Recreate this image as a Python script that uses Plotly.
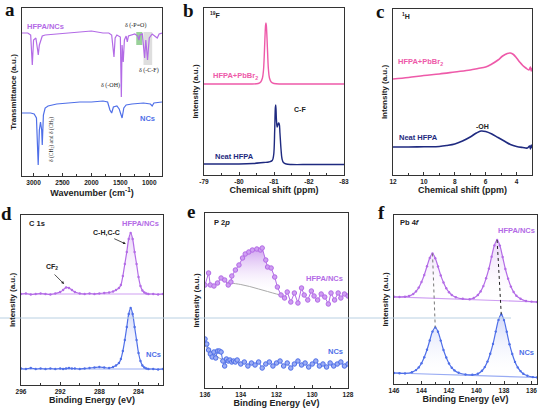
import numpy as np
import plotly.graph_objects as go

W, H = 554, 416

PURPLE = "#b36be6"
PURPLE_L = "#cf9ff2"
BLUE = "#4f6fe8"
BLUE_L = "#98abf3"
PINK = "#ee5aa9"
NAVY = "#1f2a80"

# ---- a: FTIR ----
a_x_hf = [3200, 3100, 3050, 3022, 3000, 2960, 2930, 2919, 2900, 2850, 2800, 2600, 2400, 2200, 2000,
          1900, 1800, 1700, 1650, 1610, 1590, 1560, 1500, 1483, 1470, 1450, 1430, 1400, 1380, 1360,
          1300, 1250, 1200, 1180, 1160, 1120, 1080, 1060, 1030, 1000, 950, 900, 862, 830, 780]
a_y_hf = [143, 143, 141, 111, 136, 138, 126, 121, 131, 140, 141, 142, 143, 143.5, 145,
          144, 143, 143, 141, 119, 138, 141, 139, 79, 131, 114, 136, 140, 134, 140,
          141, 142, 140, 136, 141, 142, 118, 136, 116, 138, 142, 140, 138, 142, 143]
a_x_nc = [3200, 3050, 2990, 2950, 2920, 2900, 2880, 2860, 2850, 2830, 2800, 2750, 2600, 2400, 2200,
          2000, 1800, 1720, 1680, 1650, 1620, 1560, 1520, 1470, 1440, 1400, 1300, 1100, 980, 950, 920, 780]
a_y_nc = [63, 63, 62, 58, 11, 46, 54, 46, 31, 61, 68, 70, 72, 73, 74,
          74, 75, 74, 66, 63, 69, 70, 67, 58, 68, 71, 72, 73, 72, 70, 73, 74]
a_po_band = [1225, 1120, 131, 144]
a_cf_band = [1100, 950, 111, 144]

# ---- b: 19F NMR ----
b_x_hf = [-79.0, -79.5, -80.0, -80.3, -80.55, -80.62, -80.67, -80.70, -80.72, -80.74, -80.76, -80.77,
          -80.78, -80.80, -80.82, -80.84, -80.87, -80.92, -81.0, -81.2, -81.5, -82.0, -82.5, -83.0]
b_y_hf = [91, 91, 91, 91, 91.5, 93, 97, 105, 118, 136, 150, 152,
          150, 137, 120, 106, 97, 93, 91.5, 91, 91, 91, 91, 91]
b_x_nc = [-79.0, -79.5, -80.0, -80.4, -80.7, -80.85, -80.95, -80.99, -81.02, -81.04, -81.05, -81.07, -81.09,
          -81.11, -81.13, -81.15, -81.17, -81.20, -81.23, -81.27, -81.35, -81.5, -82.0, -82.5, -83.0]
b_y_nc = [11, 11, 11, 11.5, 12.5, 13, 14.5, 20, 45, 68, 70, 55, 48,
          50, 52, 51, 42, 26, 16, 12.5, 11, 10.5, 10.5, 10.5, 10.5]
b_ticks = [-79, -80, -81, -82, -83]
b_ticktext = ["-79", "-80", "-81", "-82", "-83"]

# ---- c: 1H NMR ----
c_x_hf = [12, 11, 10, 9, 8, 7, 6.5, 6, 5.6, 5.2, 4.9, 4.6, 4.4, 4.2, 4.0, 3.8, 3.6, 3.4, 3.2, 3.1, 3.05, 3.0]
c_y_hf = [96, 97.5, 99.5, 101, 103, 105, 106.5, 108, 111, 115, 119, 121.5, 122, 120.5, 117, 113, 109.5,
          107, 105, 108, 104, 107]
c_x_nc = [12, 11, 10, 9, 8.5, 8, 7.5, 7, 6.6, 6.3, 6.0, 5.6, 5.2, 4.8, 4.4, 4.0, 3.6, 3.3, 3.15, 3.1, 3.05, 3.0]
c_y_nc = [28, 28, 28.3, 28.5, 29.5, 31, 34, 38, 42, 44, 43.5, 41, 37.5, 34, 30.5, 28.5, 27.5, 27, 29, 26, 30, 27]

# ---- d: C 1s ----
d_x = [296.0, 295.5, 295.0, 294.5, 294.0, 293.5, 293.0, 292.5, 292.0, 291.7, 291.4, 291.1, 290.8, 290.5,
       290.0, 289.5, 289.0, 288.5, 288.0, 287.5, 287.0, 286.6, 286.3, 286.0, 285.8, 285.6, 285.4, 285.2,
       285.0, 284.8, 284.6, 284.4, 284.2, 284.0, 283.8, 283.6, 283.4, 283.2, 283.0, 282.5, 282.0, 281.5]
d_y_hf = [91, 91.5, 90.5, 91, 91.5, 91, 90.5, 91.5, 93, 95, 97.5, 97, 95, 93,
          91.5, 91, 91.5, 91, 91.5, 92, 92.5, 93.5, 95, 97, 100, 109, 121, 133,
          146, 152, 146, 133, 121, 108, 99, 94.5, 92.5, 91.5, 91, 91, 90.5, 91]
d_y_nc = [16.5, 16, 17, 16, 16.5, 16, 16.5, 16, 16.5, 16, 16.5, 17, 16.5, 16.5,
          16, 16.5, 17, 17.5, 18, 17.5, 17, 18, 19.5, 22, 26, 34, 45, 58,
          71, 77, 71, 58, 45, 32, 24, 19.5, 17.5, 16.5, 16, 16, 15.5, 16]
d_base_x = [296.0, 281.5]
d_base_hf = [91, 91]
d_base_nc = [16, 16]

# ---- e: P 2p ----
e_x_hf = [136.0, 135.8, 135.7, 135.5, 135.3, 135.1, 134.9, 134.7, 134.55, 134.5, 134.3, 134.1, 133.9, 133.75,
          133.55, 133.35, 133.1, 132.9, 132.8, 132.6, 132.5, 132.3, 132.1, 131.95, 131.75, 131.55, 131.4,
          131.2, 131.0, 130.8, 130.6, 130.45, 130.25, 130.05, 129.9, 129.7, 129.5, 129.3, 129.1, 128.95,
          128.75, 128.55, 128.4, 128.2, 128.0]
e_y_hf = [103, 115, 103, 102, 105, 110, 108, 103, 106, 112, 118, 123, 130, 134,
          136, 138, 139, 138, 140, 128, 121, 120, 111, 101, 93, 90, 96,
          86, 95, 85, 100, 93, 88, 97, 92, 88, 94, 91, 84, 95,
          88, 95, 90, 94, 92]
e_bg_x_hf = [134.8, 134.55, 134.0, 133.5, 133.0, 132.5, 132.0, 131.75, 131.6]
e_bg_y_hf = [106, 105, 103.5, 101.5, 99, 96.5, 94, 93, 93]
e_x_nc = [136.0, 135.9, 135.8, 135.7, 135.6, 135.5, 135.4, 135.3, 135.2, 135.1, 135.0, 134.9, 134.8, 134.7,
          134.6, 134.5, 134.4, 134.3, 134.2, 134.0, 133.8, 133.6, 133.4, 133.2, 133.0, 132.8, 132.6, 132.4,
          132.2, 132.0, 131.8, 131.6, 131.4, 131.2, 131.0, 130.8, 130.6, 130.4, 130.2, 130.0, 129.8, 129.6,
          129.4, 129.2, 129.0, 128.8, 128.6, 128.4, 128.2, 128.0]
e_y_nc = [49, 44, 38, 34, 31, 36, 30, 37, 37, 36, 27, 22, 29, 27,
          28, 26, 27, 26, 28, 24, 26, 22, 25, 23, 26, 20, 24, 26,
          22, 25, 27, 22, 25, 20, 24, 27, 23, 25, 21, 24, 27, 22,
          24, 21, 25, 22, 24, 26, 22, 24]
e_bg_x_nc = [136.0, 135.6, 135.2, 134.8, 134.4, 134.0]
e_bg_y_nc = [42, 36, 30, 27, 26, 25.5]

# ---- f: Pb 4f ----
f_x_hf = [146.0, 145.6, 145.2, 144.9, 144.6, 144.4, 144.2, 144.0, 143.8, 143.6, 143.4, 143.2, 143.0, 142.8,
          142.6, 142.4, 142.2, 142.0, 141.8, 141.5, 141.0, 140.5, 140.2, 139.9, 139.7, 139.5, 139.3, 139.1,
          138.9, 138.7, 138.5, 138.3, 138.1, 137.9, 137.7, 137.5, 137.3, 137.1, 136.8, 136.4, 136.0, 135.6]
f_y_hf = [83.2, 83.0, 83.3, 84, 86, 88.6, 92.4, 98, 105, 113.7, 122, 126.5, 121.8, 113.5,
          104.6, 97.5, 91.8, 87.8, 85, 82.8, 81.2, 80.8, 82, 85, 88.6, 93.9, 101.7, 111.3,
          123.3, 134.6, 140, 134.4, 123, 111, 101.3, 93.4, 88, 84.3, 81.3, 79, 78.4, 78]
f_x_nc = [146.0, 145.6, 145.2, 144.7, 144.4, 144.2, 144.0, 143.8, 143.6, 143.4, 143.2, 143.0, 142.8, 142.6,
          142.4, 142.2, 142.0, 141.8, 141.6, 141.3, 140.8, 140.3, 139.9, 139.6, 139.4, 139.2, 139.0, 138.8,
          138.6, 138.4, 138.2, 138.0, 137.8, 137.6, 137.4, 137.2, 137.0, 136.8, 136.6, 136.3, 135.9, 135.6]
f_y_nc = [7, 6.8, 6.6, 7.7, 9.9, 12.6, 16.7, 22.7, 30.2, 39.5, 48.4, 52.5, 48.3, 39.4,
          30, 22.5, 16.5, 12.3, 9.6, 7.2, 5.5, 5.2, 6.3, 9.3, 12.9, 18.4, 26.3, 36.1,
          48.4, 60.1, 65.6, 59.9, 48.2, 35.8, 26, 18.1, 12.6, 8.9, 6.2, 4.2, 2.9, 2.6]
f_base_x = [146.0, 135.6]
f_base_hf = [83.2, 78]
f_base_nc = [7, 2.5]


def grad(rgb, alpha):
    return dict(type="vertical", colorscale=[[0, "rgba(255,255,255,0)"], [1, f"rgba({rgb},{alpha})"]])


fig = go.Figure()

# a
fig.add_trace(go.Scatter(x=a_x_hf, y=a_y_hf, mode="lines", line=dict(color=PURPLE, width=1.2), xaxis="x", yaxis="y"))
fig.add_trace(go.Scatter(x=a_x_nc, y=a_y_nc, mode="lines", line=dict(color=BLUE, width=1.2), xaxis="x", yaxis="y"))

# b
fig.add_trace(go.Scatter(x=b_x_hf, y=b_y_hf, mode="lines", line=dict(color=PINK, width=1.4, shape="spline"), xaxis="x2", yaxis="y2"))
fig.add_trace(go.Scatter(x=b_x_nc, y=b_y_nc, mode="lines", line=dict(color=NAVY, width=1.4, shape="spline"), xaxis="x2", yaxis="y2"))

# c
fig.add_trace(go.Scatter(x=c_x_hf, y=c_y_hf, mode="lines", line=dict(color=PINK, width=1.6, shape="spline"), xaxis="x3", yaxis="y3"))
fig.add_trace(go.Scatter(x=c_x_nc, y=c_y_nc, mode="lines", line=dict(color=NAVY, width=1.6, shape="spline"), xaxis="x3", yaxis="y3"))

# d
for bx, by, cy, col, lcol, rgb in [(d_base_x, d_base_hf, d_y_hf, PURPLE, PURPLE_L, "190,130,235"),
                                   (d_base_x, d_base_nc, d_y_nc, BLUE, BLUE_L, "120,140,240")]:
    fig.add_trace(go.Scatter(x=bx, y=by, mode="lines", line=dict(color=lcol, width=1), xaxis="x4", yaxis="y4"))
    fig.add_trace(go.Scatter(x=d_x, y=cy, mode="lines+markers", fill="tonexty", fillgradient=grad(rgb, 0.35),
                             line=dict(color=col, width=1.2, shape="spline"), marker=dict(size=2.4, color=col),
                             xaxis="x4", yaxis="y4"))

# e
ex = np.array(e_x_hf)
ey = np.array(e_y_hf)
bgx = np.array(e_bg_x_hf)
bgy = np.array(e_bg_y_hf)
m = (ex <= 134.55) & (ex >= 131.75)
mb = (bgx <= 134.55) & (bgx >= 131.75)
fig.add_trace(go.Scatter(x=bgx[mb], y=bgy[mb], mode="lines", line=dict(width=0), xaxis="x5", yaxis="y5"))
fig.add_trace(go.Scatter(x=ex[m], y=ey[m], mode="lines", line=dict(width=0), fill="tonexty",
                         fillgradient=grad("175,100,230", 0.6), xaxis="x5", yaxis="y5"))
fig.add_trace(go.Scatter(x=e_bg_x_hf, y=e_bg_y_hf, mode="lines", line=dict(color="#aaaaaa", width=1, shape="spline"), xaxis="x5", yaxis="y5"))
fig.add_trace(go.Scatter(x=e_bg_x_nc, y=e_bg_y_nc, mode="lines", line=dict(color="#aaaaaa", width=1, shape="spline"), xaxis="x5", yaxis="y5"))
fig.add_trace(go.Scatter(x=e_x_hf, y=e_y_hf, mode="lines+markers", line=dict(color=PURPLE, width=1),
                         marker=dict(size=4.5, color="#cf9ef2", line=dict(color=PURPLE, width=1)), xaxis="x5", yaxis="y5"))
fig.add_trace(go.Scatter(x=e_x_nc, y=e_y_nc, mode="lines+markers", line=dict(color=BLUE, width=1),
                         marker=dict(size=4.5, color="#9cadf4", line=dict(color=BLUE, width=1)), xaxis="x5", yaxis="y5"))

# f
for cx, cy, by, col, lcol, rgb in [(f_x_hf, f_y_hf, f_base_hf, PURPLE, PURPLE_L, "190,130,235"),
                                   (f_x_nc, f_y_nc, f_base_nc, BLUE, BLUE_L, "120,140,240")]:
    fig.add_trace(go.Scatter(x=f_base_x, y=by, mode="lines", line=dict(color=lcol, width=1.2), xaxis="x6", yaxis="y6"))
    fig.add_trace(go.Scatter(x=cx, y=cy, mode="lines+markers", fill="tonexty", fillgradient=grad(rgb, 0.35),
                             line=dict(color=col, width=1.2, shape="spline"), marker=dict(size=2.4, color=col),
                             xaxis="x6", yaxis="y6"))

# peak guide lines in f, taken from the curves
shapes = []
fxh, fyh = np.array(f_x_hf), np.array(f_y_hf)
fxn, fyn = np.array(f_x_nc), np.array(f_y_nc)
for left, dcol in [(True, "#777777"), (False, "#222222")]:
    sh = (fxh > 140.5) if left else (fxh < 140.5)
    sn = (fxn > 140.5) if left else (fxn < 140.5)
    ih = np.argmax(np.where(sh, fyh, -1))
    inn = np.argmax(np.where(sn, fyn, -1))
    shapes.append(dict(type="line", xref="x6", yref="y6", x0=fxh[ih], y0=fyh[ih], x1=fxn[inn], y1=fyn[inn],
                       line=dict(color=dcol, width=1, dash="dot")))

shapes.append(dict(type="rect", xref="x", yref="y", x0=a_po_band[0], x1=a_po_band[1], y0=a_po_band[2], y1=a_po_band[3],
                   fillcolor="rgba(110,190,110,0.7)", line=dict(width=0), layer="below"))
shapes.append(dict(type="rect", xref="x", yref="y", x0=a_cf_band[0], x1=a_cf_band[1], y0=a_cf_band[2], y1=a_cf_band[3],
                   fillcolor="rgba(200,200,200,0.6)", line=dict(width=0), layer="below"))
# faint guide line crossing the lower row
shapes.append(dict(type="line", xref="paper", yref="paper", x0=0, x1=511 / W, y0=1 - 318 / H, y1=1 - 318 / H,
                   line=dict(color="#b9d0e2", width=1)))

BOLD = dict(family="Liberation Sans, Arial", weight="bold")


def xax(l, r, rng, dtick, mdtick, title, anchor, **kw):
    d = dict(domain=[l / W, r / W], range=rng, dtick=dtick, tick0=0, ticks="inside", ticklen=3, tickwidth=1,
             tickcolor="#333", minor=dict(dtick=mdtick, tick0=0, ticks="inside", ticklen=2, tickcolor="#333"),
             showline=True, mirror=True, linecolor="#333", linewidth=1, showgrid=False, zeroline=False,
             tickfont=dict(size=6.5, color="#222", **BOLD),
             title=dict(text=title, font=dict(size=9, color="#222", **BOLD), standoff=2),
             anchor=anchor, fixedrange=True, automargin=False)
    d.update(kw)
    return d


def yax(t, b, rng, title, anchor):
    return dict(domain=[1 - b / H, 1 - t / H], range=rng, showticklabels=False, ticks="", showline=True,
                mirror=True, linecolor="#333", linewidth=1, showgrid=False, zeroline=False,
                title=dict(text=title, font=dict(size=8, color="#222", **BOLD), standoff=3),
                anchor=anchor, fixedrange=True, automargin=False)


def note(text, x, y, size=7, color="#222", xanchor="center", family="Liberation Sans, Arial", weight="bold", angle=0):
    return dict(text=text, x=x / W, y=1 - y / H, xref="paper", yref="paper", xanchor=xanchor, yanchor="middle",
                showarrow=False, textangle=angle, font=dict(size=size, color=color, family=family, weight=weight))


SERIF = "Liberation Serif, Times New Roman"
ann = [
    note("a", 10, 9, 19, "#111", family=SERIF), note("b", 188, 10, 19, "#111", family=SERIF),
    note("c", 380, 11, 19, "#111", family=SERIF), note("d", 7, 214, 19, "#111", family=SERIF),
    note("e", 191, 211, 19, "#111", family=SERIF), note("f", 381, 212, 19, "#111", family=SERIF),
    # a
    note("HFPA/NCs", 25, 26, 7.5, PURPLE, "left"),
    note("δ (-P=O)", 135, 25, 6, "#222", family=SERIF, weight="normal"),
    note("δ (-C-F)", 149, 71, 6, "#222", family=SERIF, weight="normal"),
    note("δ (-OH)", 110, 85, 6, "#222", family=SERIF, weight="normal"),
    note("NCs", 147, 118, 7.5, BLUE),
    note("δ (CH<sub>2</sub>) and δ (CH<sub>3</sub>)", 51, 140, 5.5, "#222", family=SERIF, weight="normal", angle=-90),
    # b
    note("<sup>19</sup>F", 208, 15, 7, "#222", "left"),
    note("HFPA+PbBr<sub>2</sub>", 211, 76, 7.5, PINK, "left"),
    note("Neat HFPA", 213, 156, 7.5, NAVY, "left"),
    note("C-F", 292, 110, 7, "#222", "left"),
    # c
    note("<sup>1</sup>H", 400, 16, 7, "#222", "left"),
    note("HFPA+PbBr<sub>2</sub>", 396, 62, 7.5, PINK, "left"),
    note("Neat HFPA", 397, 137, 7.5, NAVY, "left"),
    note("-OH", 482, 126, 7, "#222"),
    # d
    note("C 1s", 27, 223, 7.5, "#222", "left"),
    note("HFPA/NCs", 161, 223, 7.5, PURPLE, "right"),
    note("C-H,C-C", 106, 233, 7, "#222"),
    note("CF<sub>2</sub>", 52, 267, 7, "#222"),
    note("NCs", 153, 354, 7.5, BLUE),
    # e
    note("P 2<i>p</i>", 212, 222, 7.5, "#222", "left"),
    note("HFPA/NCs", 324, 278, 7.5, PURPLE),
    note("NCs", 335, 351, 7.5, BLUE),
    # f
    note("Pb 4<i>f</i>", 398, 222, 7.5, "#222", "left"),
    note("HFPA/NCs", 516, 230, 7.5, PURPLE),
    note("NCs", 526, 352, 7.5, BLUE),
    # arrows in d
    dict(x=291.6, y=101, xref="x4", yref="y4", ax=-11, ay=-11, text="", showarrow=True,
         arrowhead=2, arrowsize=0.7, arrowwidth=0.8, arrowcolor="#222"),
    dict(x=285.3, y=141, xref="x4", yref="y4", ax=-13, ay=-6, text="", showarrow=True,
         arrowhead=2, arrowsize=0.7, arrowwidth=0.8, arrowcolor="#222"),
]

fig.update_layout(
    template="none",
    width=W, height=H, margin=dict(l=0, r=0, t=0, b=0, autoexpand=False), showlegend=False,
    paper_bgcolor="white", plot_bgcolor="white",
    font=dict(family="Liberation Sans, Arial", size=7, color="#222"),
    xaxis=xax(22, 162, [3200, 780], 500, 250, "Wavenumber (cm<sup>-1</sup>)", "y"),
    yaxis=yax(8, 176, [0, 168], "Transmittance (a.u.)", "x"),
    xaxis2=xax(204, 344, [-79, -83], 1, 0.5, "Chemical shift (ppm)", "y2",
               tickmode="array", tickvals=b_ticks, ticktext=b_ticktext),
    yaxis2=yax(8, 175, [0, 167], "Intensity (a.u.)", "x2"),
    xaxis3=xax(393, 532, [12, 3], 2, 1, "Chemical shift (ppm)", "y3"),
    yaxis3=yax(9, 175, [0, 166], "Intensity (a.u.)", "x3"),
    xaxis4=xax(21, 163, [296, 281.5], 4, 2, "Binding Energy (eV)", "y4"),
    yaxis4=yax(215, 385, [0, 170], "Intensity (a.u.)", "x4"),
    xaxis5=xax(205, 348, [136, 128], 2, 1, "Binding Energy (eV)", "y5"),
    yaxis5=yax(213, 388, [0, 175], "Intensity (a.u.)", "x5"),
    xaxis6=xax(394, 537, [146, 135.6], 2, 1, "Binding Energy (eV)", "y6"),
    yaxis6=yax(215, 384, [-4, 165], "Intensity (a.u.)", "x6"),
    shapes=shapes, annotations=ann,
)

# the page's default body margin would push the 554x416 figure off the window
fig.write_html("out.html", config={"displayModeBar": False},
               post_script="document.body.style.margin='0';")
